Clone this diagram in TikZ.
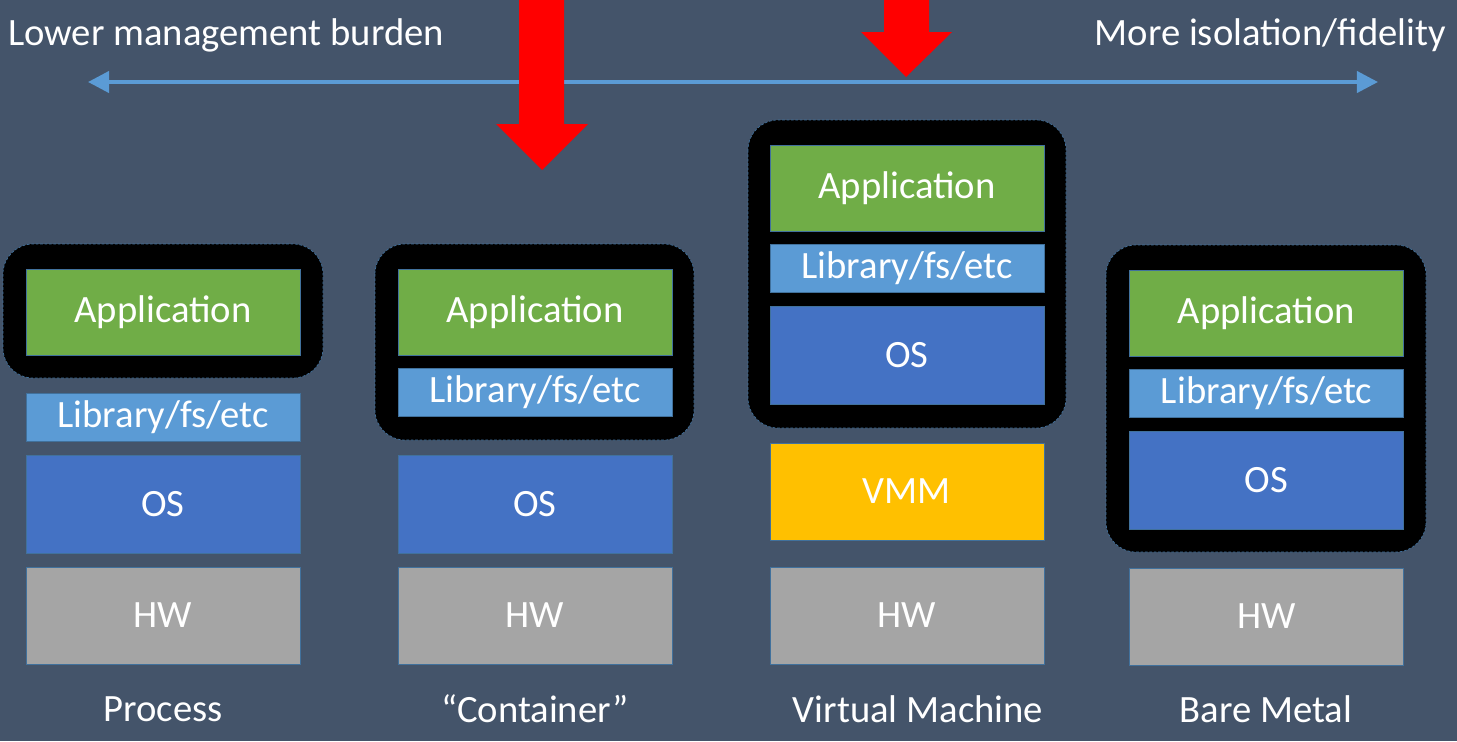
\documentclass[tikz,border=0pt]{standalone}
\usepackage{fontspec}
\setmainfont{Carlito}
\usetikzlibrary{arrows.meta}
\definecolor{slide}{HTML}{44546A}
\definecolor{appgreen}{HTML}{70AD47}
\definecolor{libblue}{HTML}{5B9BD5}
\definecolor{osblue}{HTML}{4472C4}
\definecolor{vmmgold}{HTML}{FFC000}
\definecolor{hwgray}{HTML}{A5A5A5}
\definecolor{edgeblue}{HTML}{41719C}

\begin{document}
\begin{tikzpicture}[x=0.02cm, y=-0.02cm,
    every node/.style={text=white, font=\fontsize{22}{26}\selectfont},
    layer/.style={draw=edgeblue, line width=0.5pt, minimum width=5.48cm, inner sep=0pt},
    app/.style={layer, fill=appgreen, minimum height=1.72cm},
    lib/.style={layer, fill=libblue, minimum height=0.96cm},
    os/.style={layer, fill=osblue, minimum height=1.96cm},
    vmm/.style={layer, fill=vmmgold, minimum height=1.94cm},
    hw/.style={layer, fill=hwgray, minimum height=1.94cm},
    encl/.style={fill=black, draw=edgeblue, dash pattern=on 1.5pt off 1pt, line width=0.4pt, rounded corners=0.6cm},
    redarrow/.style={fill=red, draw=none}]

  \fill [slide] (0,0) rectangle (1457,741);
  \useasboundingbox (0,0) rectangle (1457,741);

  % enclosures
  \draw [encl] (3,244) rectangle (323,378);
  \draw [encl] (375,244) rectangle (694,440);
  \draw [encl] (748,120) rectangle (1066,428);
  \draw [encl] (1106,245) rectangle (1426,552);

  % Process
  \node [app] (p-app) at (163,312) {Application};
  \node [lib] (p-lib) at (163,417) {Library/fs/etc};
  \node [os]  (p-os)  at (163,504) {OS};
  \node [hw]  (p-hw)  at (163,615.5) {HW};
  \node (p-lbl) at (163,709) {Process};

  % Container
  \node [app] (c-app) at (535,312) {Application};
  \node [lib] (c-lib) at (535,392) {Library/fs/etc};
  \node [os]  (c-os)  at (535,504) {OS};
  \node [hw]  (c-hw)  at (535,615.5) {HW};
  \node (c-lbl) at (535,709) {“Container”};

  % Virtual Machine
  \node [app] (v-app) at (907,188) {Application};
  \node [lib] (v-lib) at (907,268.5) {Library/fs/etc};
  \node [os]  (v-os)  at (907,355.5) {OS};
  \node [vmm] (v-vmm) at (907,491.5) {VMM};
  \node [hw]  (v-hw)  at (907,615.5) {HW};
  \node (v-lbl) at (918,709) {Virtual Machine};

  % Bare Metal
  \node [app] (b-app) at (1266.5,313) {Application};
  \node [lib] (b-lib) at (1266.5,393) {Library/fs/etc};
  \node [os]  (b-os)  at (1266.5,480.5) {OS};
  \node [hw]  (b-hw)  at (1266.5,616.5) {HW};
  \node (b-lbl) at (1266,709) {Bare Metal};

  % scale
  \node [anchor=west] (low) at (2,35) {Lower management burden};
  \node [anchor=east] (high) at (1452,35) {More isolation/fidelity};
  \coordinate (scale-l) at (88,82);
  \coordinate (scale-r) at (1378,82);
  \draw [libblue, line width=2.2pt, {Triangle[width=12pt,length=12pt]}-{Triangle[width=12pt,length=12pt]}] (scale-l) -- (scale-r);

  % red arrows
  \fill [redarrow] (519,-2) -- (564,-2) -- (564,124) -- (588,124) -- (542,170)
    -- (496,124) -- (519,124) -- cycle;
  \fill [redarrow] (884,-2) -- (929,-2) -- (929,32) -- (952,32) -- (906,77)
    -- (861,32) -- (884,32) -- cycle;

\end{tikzpicture}
\end{document}
